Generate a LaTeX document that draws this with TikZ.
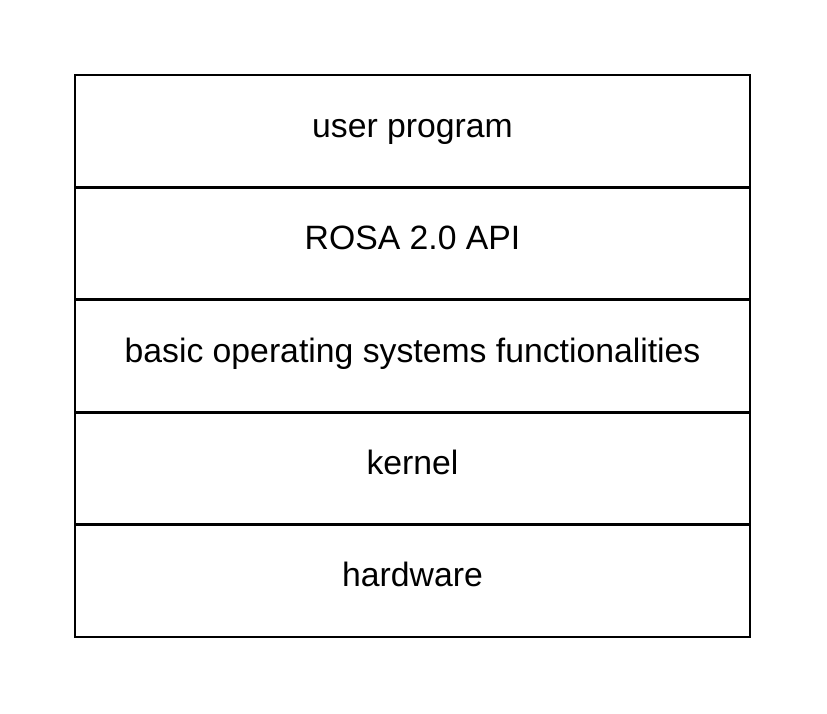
\documentclass[tikz,border=0pt]{standalone}
\usepackage{fontspec}
\setmainfont{Liberation Sans}
\usetikzlibrary{positioning}

\begin{document}
\begin{tikzpicture}[
        layer/.style={draw, line width=2.1pt, minimum width=16.875cm,
                minimum height=2.81cm, inner sep=0pt, outer sep=0pt,
                text height=0.5cm, text depth=0.2cm,
                font=\fontsize{24}{28}\selectfont},
        node distance=0cm]
        \useasboundingbox (0cm, 0cm) rectangle (20.675cm, -17.825cm);
        \node (user) [layer, anchor=north west] at (1.875cm, -1.875cm) {user program};
        \node (api) [layer, below=of user] {ROSA 2.0 API};
        \node (basic) [layer, below=of api] {basic operating systems functionalities};
        \node (kernel) [layer, below=of basic] {kernel};
        \node (hw) [layer, below=of kernel] {hardware};
\end{tikzpicture}
\end{document}
